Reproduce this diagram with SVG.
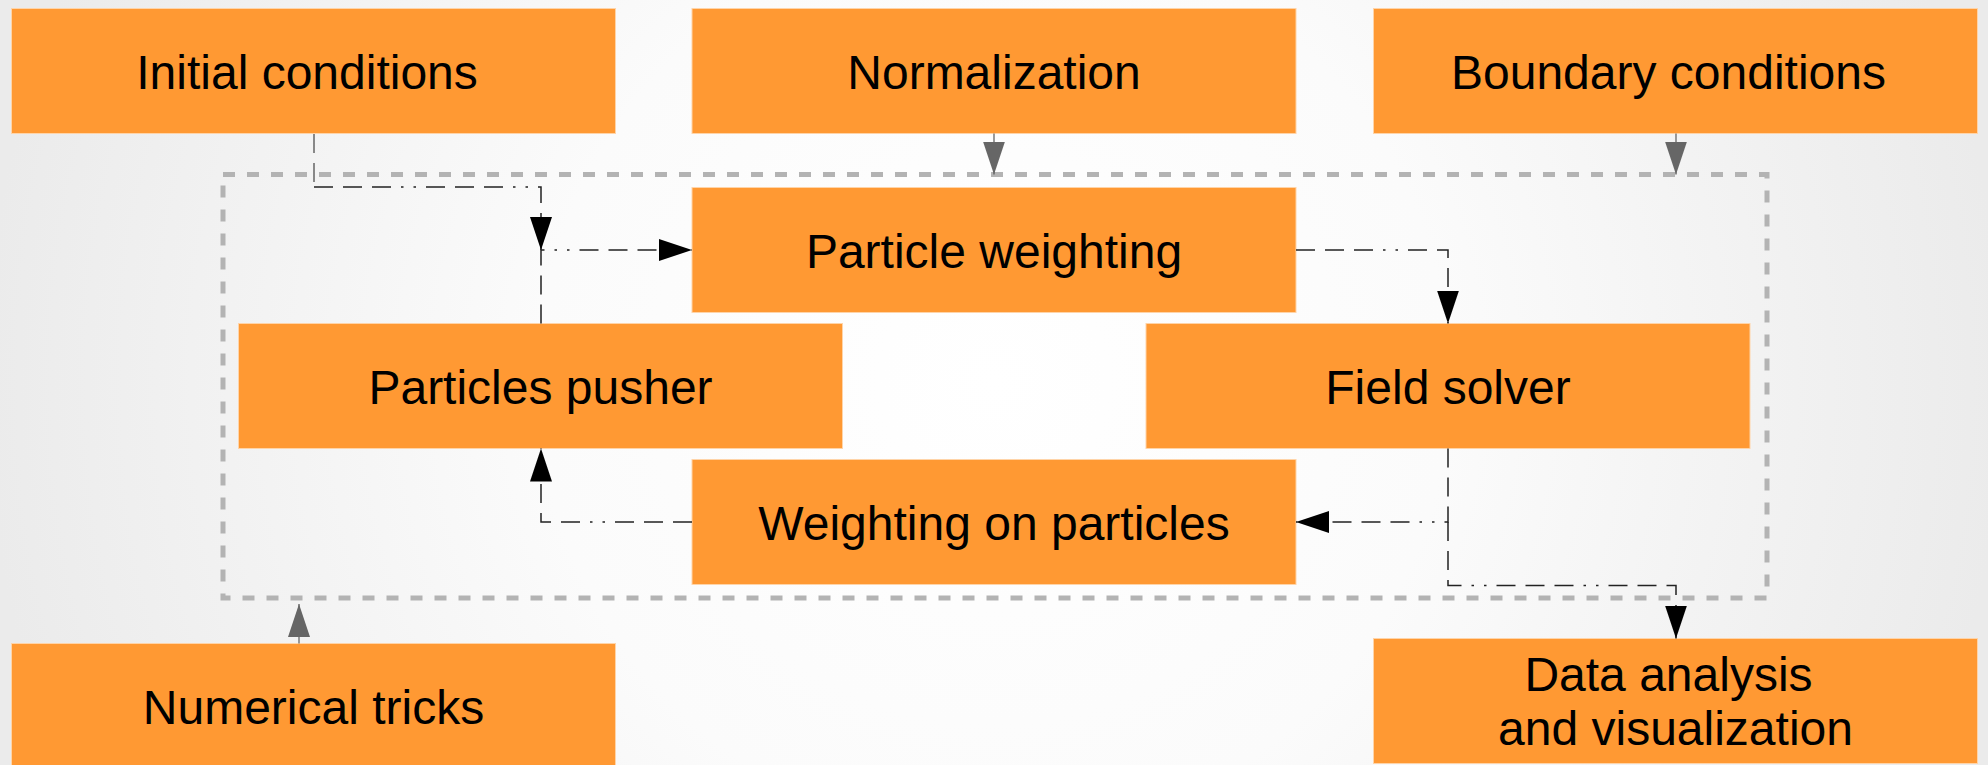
<svg xmlns="http://www.w3.org/2000/svg" width="1988" height="765" viewBox="0 0 1988 765">
  <defs>
    <radialGradient id="bg" gradientUnits="userSpaceOnUse" cx="994" cy="382" r="1010">
      <stop offset="0" stop-color="#ffffff"/>
      <stop offset="0.45" stop-color="#fbfbfb"/>
      <stop offset="1" stop-color="#ebebeb"/>
    </radialGradient>
    <marker id="arrBlack" markerUnits="userSpaceOnUse" markerWidth="34" markerHeight="22" refX="33" refY="11" orient="auto" viewBox="0 0 34 22">
      <path d="M0,0 L33,11 L0,22 z" fill="#000000"/>
    </marker>
    <marker id="arrGrey" markerUnits="userSpaceOnUse" markerWidth="34" markerHeight="22" refX="33" refY="11" orient="auto" viewBox="0 0 34 22">
      <path d="M0,0 L33,11 L0,22 z" fill="#666666"/>
    </marker>
  </defs>
  <style>
    .box { fill: #ff9933; stroke: #ffd4a8; stroke-width: 1; }
    .lbl { font-family: "Liberation Sans", Arial, sans-serif; font-size: 48px; fill: #000000; text-anchor: middle; }
    .frame { fill: none; stroke: #b3b3b3; stroke-width: 5; stroke-dasharray: 12 12; }
    .grey { fill: none; stroke: #666666; stroke-width: 1.3; }
    .flow { fill: none; stroke: #222222; stroke-width: 1.5; stroke-dasharray: 19 10 19 10 19 10 2.5 10 2.5 10; }
    .flowg { fill: none; stroke: #666666; stroke-width: 1.5; stroke-dasharray: 19 10 19 10 19 10 2.5 10 2.5 10; }
  </style>
  <rect x="0" y="0" width="1988" height="765" fill="url(#bg)"/>

  <g id="container">
    <rect class="frame" x="223" y="174.5" width="1544" height="423.5"/>
  </g>

  <g id="n-initial">
    <rect class="box" x="11.5" y="8.5" width="604" height="125"/>
    <text class="lbl" x="307" y="88.5">Initial conditions</text>
  </g>
  <g id="n-normalization">
    <rect class="box" x="692" y="8.5" width="604" height="125"/>
    <text class="lbl" x="994" y="88.5">Normalization</text>
  </g>
  <g id="n-boundary">
    <rect class="box" x="1373.5" y="8.5" width="604" height="125"/>
    <text class="lbl" x="1668.5" y="88.5">Boundary conditions</text>
  </g>
  <g id="n-particle-weighting">
    <rect class="box" x="692" y="187.5" width="604" height="125"/>
    <text class="lbl" x="994" y="267.5">Particle weighting</text>
  </g>
  <g id="n-pusher">
    <rect class="box" x="238.5" y="323.5" width="604" height="125"/>
    <text class="lbl" x="540.5" y="403.5">Particles pusher</text>
  </g>
  <g id="n-field-solver">
    <rect class="box" x="1146" y="323.5" width="604" height="125"/>
    <text class="lbl" x="1448" y="403.5">Field solver</text>
  </g>
  <g id="n-weighting-on-particles">
    <rect class="box" x="692" y="459.5" width="604" height="125"/>
    <text class="lbl" x="994" y="539.5">Weighting on particles</text>
  </g>
  <g id="n-numerical">
    <rect class="box" x="11.5" y="643.5" width="604" height="125"/>
    <text class="lbl" x="313.5" y="723.5">Numerical tricks</text>
  </g>
  <g id="n-data">
    <rect class="box" x="1373.5" y="638.5" width="604" height="125"/>
    <text class="lbl" x="1668.5" y="691">Data analysis</text>
    <text class="lbl" x="1675.5" y="745">and visualization</text>
  </g>

  <g id="connectors">
    <path class="grey" d="M994,133.5 V174.5" marker-end="url(#arrGrey)"/>
    <path class="grey" d="M1676,133.5 V174.5" marker-end="url(#arrGrey)"/>
    <path class="grey" d="M299,643.5 V604" marker-end="url(#arrGrey)"/>
    <path class="flowg" d="M314,134 V187"/>
    <path class="flow" d="M314,187 H541 V250" marker-end="url(#arrBlack)"/>
    <path class="flow" d="M541,323.5 V250 H692" marker-end="url(#arrBlack)"/>
    <path class="flow" d="M1296,250 H1448 V323.5" marker-end="url(#arrBlack)"/>
    <path class="flow" d="M1448,448.5 V522 H1296" marker-end="url(#arrBlack)"/>
    <path class="flow" d="M1448,522 V585.5 H1676 V638.5" marker-end="url(#arrBlack)"/>
    <path class="flow" d="M692,522 H541 V448.5" marker-end="url(#arrBlack)"/>
  </g>
</svg>
